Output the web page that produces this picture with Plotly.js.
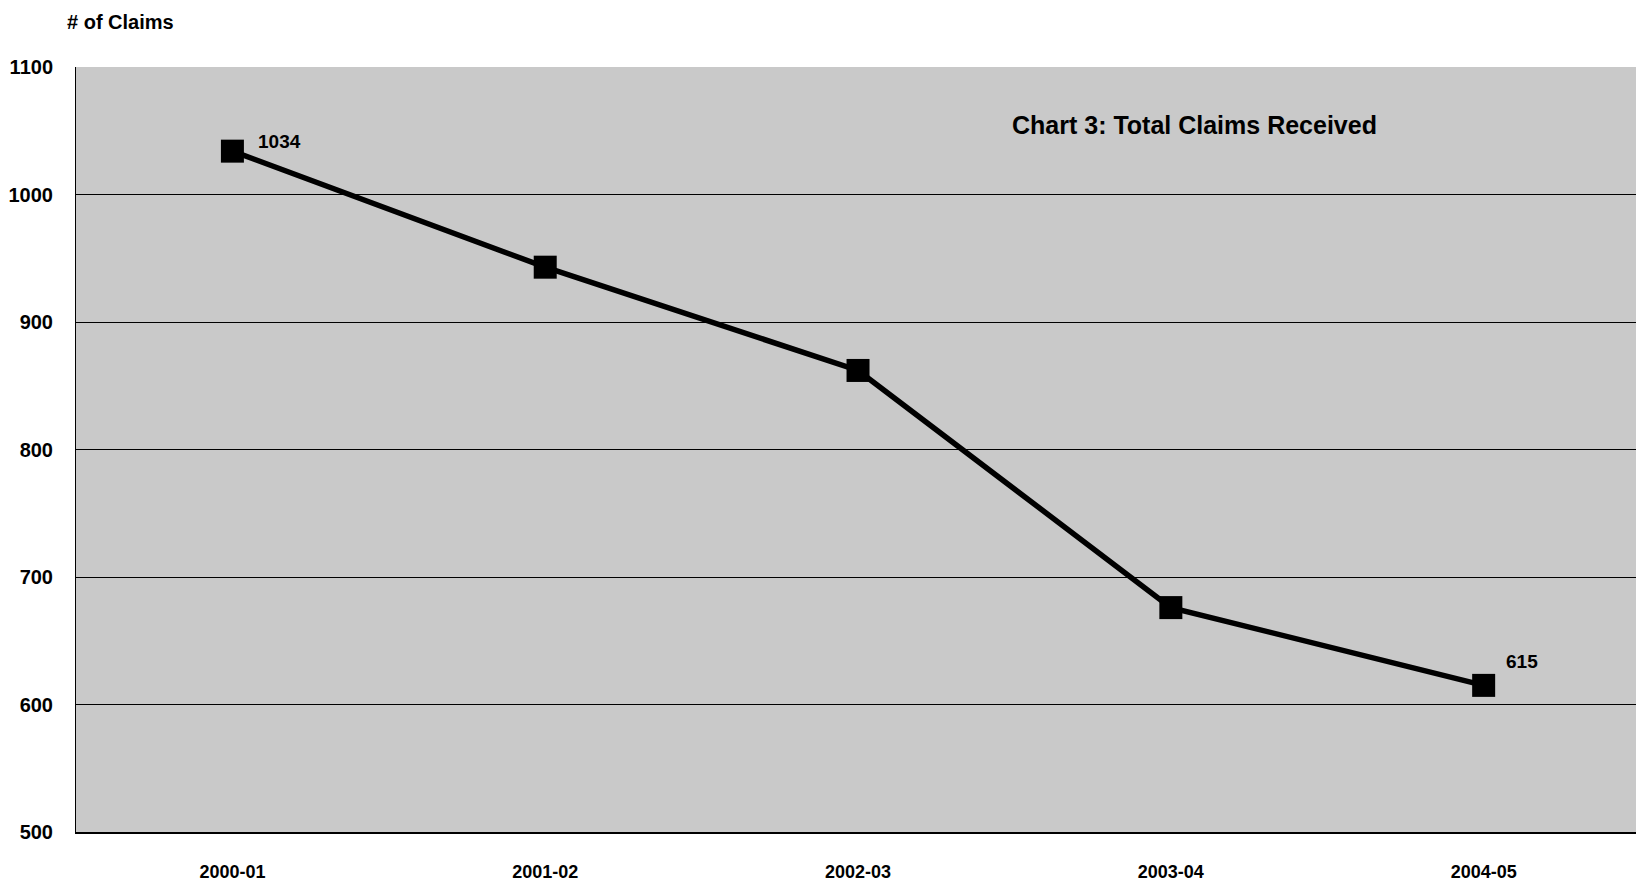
<!DOCTYPE html>
<html>
<head>
<meta charset="utf-8">
<script src="https://cdn.plot.ly/plotly-3.0.1.min.js"></script>
<style>html,body{margin:0;padding:0;background:#fff;}#chart{width:1636px;height:881px;}</style>
</head>
<body>
<div id="chart"></div>
<script>
const categories = ["2000-01", "2001-02", "2002-03", "2003-04", "2004-05"];
const claims = [1034, 943, 862, 676, 615];
const chartTitle = "Chart 3: Total Claims Received";
const yTitle = "# of Claims";

const FONT = '"Liberation Sans Narrow", "Liberation Sans", Arial, sans-serif';
const f = (size) => ({family: FONT, size: size, color: '#000', weight: 'bold'});

const trace = {
  x: categories,
  y: claims,
  type: 'scatter',
  mode: 'lines+markers',
  line: {color: '#000', width: 5.5},
  marker: {symbol: 'square', size: 23, color: '#000'},
  hoverinfo: 'skip',
  cliponaxis: false
};

const annotations = [
  {xref: 'x', yref: 'y', x: categories[0], y: claims[0], text: String(claims[0]),
   xanchor: 'left', yanchor: 'middle', xshift: 24, yshift: 10, showarrow: false, font: f(19)},
  {xref: 'x', yref: 'y', x: categories[4], y: claims[4], text: String(claims[4]),
   xanchor: 'left', yanchor: 'middle', xshift: 20, yshift: 24, showarrow: false, font: f(19)},
  {xref: 'paper', yref: 'paper', x: 0.7167, y: 0.924, text: chartTitle,
   xanchor: 'center', yanchor: 'middle', showarrow: false, font: f(25)},
  {xref: 'paper', yref: 'paper', x: -0.007, y: 1.059, text: yTitle,
   xanchor: 'left', yanchor: 'middle', showarrow: false, font: f(20)}
];

const layout = {
  width: 1636, height: 881,
  margin: {l: 76, r: 0, t: 67, b: 49, pad: 0},
  paper_bgcolor: '#ffffff',
  plot_bgcolor: '#c9c9c9',
  showlegend: false,
  xaxis: {
    type: 'category',
    range: [-0.5, 4.487],
    showgrid: false,
    zeroline: false,
    showline: true, linecolor: '#000', linewidth: 2,
    ticks: '', ticklen: 0,
    tickfont: f(18),
    ticklabelstandoff: 22
  },
  yaxis: {
    range: [500, 1100],
    dtick: 100, tick0: 500,
    showgrid: true, gridcolor: '#000', gridwidth: 1,
    zeroline: false,
    showline: true, linecolor: '#000', linewidth: 1,
    ticks: '',
    tickfont: f(20),
    ticklabelstandoff: 18
  },
  annotations: annotations
};

Plotly.newPlot('chart', [trace], layout, {displayModeBar: false, staticPlot: true});
</script>
</body>
</html>
